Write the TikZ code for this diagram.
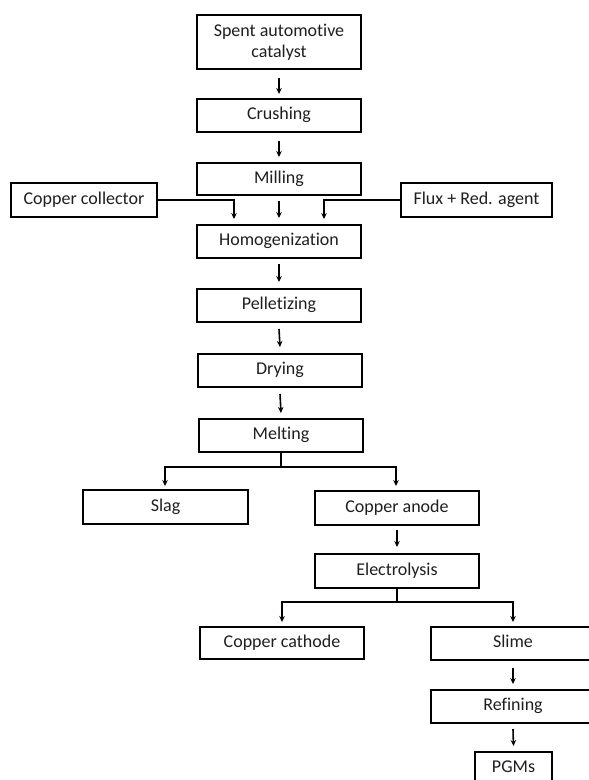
\documentclass[tikz,border=0pt]{standalone}
\usepackage{fontspec}
\setmainfont{Carlito}[Ligatures={NoCommon}]
\usetikzlibrary{arrows.meta}
\begin{document}
\begin{tikzpicture}[x=1pt,y=-1pt,
  procbox/.style={draw=black,line width=2pt,fill=white,inner sep=0pt,
    minimum width=164pt,minimum height=33pt,align=center,
    text height=12.5pt,text depth=4pt,
    font=\fontsize{18}{21}\selectfont,text=black!88},
  flow/.style={line width=1.6pt,-{Stealth[length=6pt,width=5.5pt]}},
  link/.style={line width=1.6pt}]
\useasboundingbox (0,0) rectangle (589,780);
\clip (0,0) rectangle (589,780);
\fill[white] (0,0) rectangle (589,780);

% main chain
\node[procbox,minimum height=54pt,text height=,text depth=] (spent) at (279,42) {Spent automotive\\catalyst};
\node[procbox] (crush) at (279,115.5) {Crushing};
\node[procbox,minimum height=32pt] (mill) at (279,179) {Milling};
\node[procbox,minimum width=146pt,minimum height=34pt] (coll) at (84,200) {Copper collector};
\node[procbox,minimum width=151pt,minimum height=34pt] (flux) at (476.5,200) {Flux + Red. agent};
\node[procbox] (homo) at (279,241.5) {Homogenization};
\node[procbox] (pell) at (279,305.5) {Pelletizing};
\node[procbox] (dry) at (280,370.5) {Drying};
\node[procbox] (melt) at (281,435.5) {Melting};
\node[procbox,minimum width=165pt,minimum height=34pt] (slag) at (165.5,507) {Slag};
\node[procbox,minimum height=34pt] (anode) at (397,508) {Copper anode};
\node[procbox,minimum height=34pt] (elec) at (397,571) {Electrolysis};
\node[procbox,minimum height=32pt] (cath) at (282,643) {Copper cathode};
\node[procbox] (slime) at (513,643.5) {Slime};
\node[procbox] (refin) at (513,706.5) {Refining};
\node[procbox,minimum width=77pt] (pgm) at (513.5,768.5) {PGMs};

% straight steps
\draw[flow] ([yshift=-8pt]spent.south) -- ([yshift=4pt]crush.north);
\draw[flow] ([yshift=-8pt]crush.south) -- ([yshift=5pt]mill.north);
\draw[flow] ([yshift=-5pt]mill.south) -- ([yshift=6pt]homo.north);
\draw[flow] ([yshift=-5pt]homo.south) -- ([yshift=6pt]pell.north);
\draw[flow] ([yshift=-6pt]pell.south) -- ([yshift=6pt]dry.north);
\draw[flow] ([yshift=-6pt]dry.south) -- ([yshift=5pt]melt.north);
\draw[flow] ([yshift=-4pt]anode.south) -- ([yshift=6pt]elec.north);
\draw[flow] ([yshift=-7pt]slime.south) -- ([yshift=5pt]refin.north);
\draw[flow] ([yshift=-5pt]refin.south) -- ([yshift=5pt]pgm.north);

% side feeds into homogenization
\coordinate (collend) at (234,219);
\coordinate (fluxend) at (324,219);
\draw[flow] (coll.east) -| (collend);
\draw[flow] (flux.west) -| (fluxend);

% melting split
\coordinate (meltj) at (281,467);
\coordinate (slagend) at (165,486);
\coordinate (anodeend) at (396,486);
\draw[link] (melt.south) -- (meltj);
\draw[flow] (meltj) -| (slagend);
\draw[flow] (meltj) -| (anodeend);

% electrolysis split
\coordinate (elecj) at (397,602);
\coordinate (cathend) at (282,622);
\coordinate (slimeend) at (513,622);
\draw[link] (elec.south) -- (elecj);
\draw[flow] (elecj) -| (cathend);
\draw[flow] (elecj) -| (slimeend);
\end{tikzpicture}
\end{document}
